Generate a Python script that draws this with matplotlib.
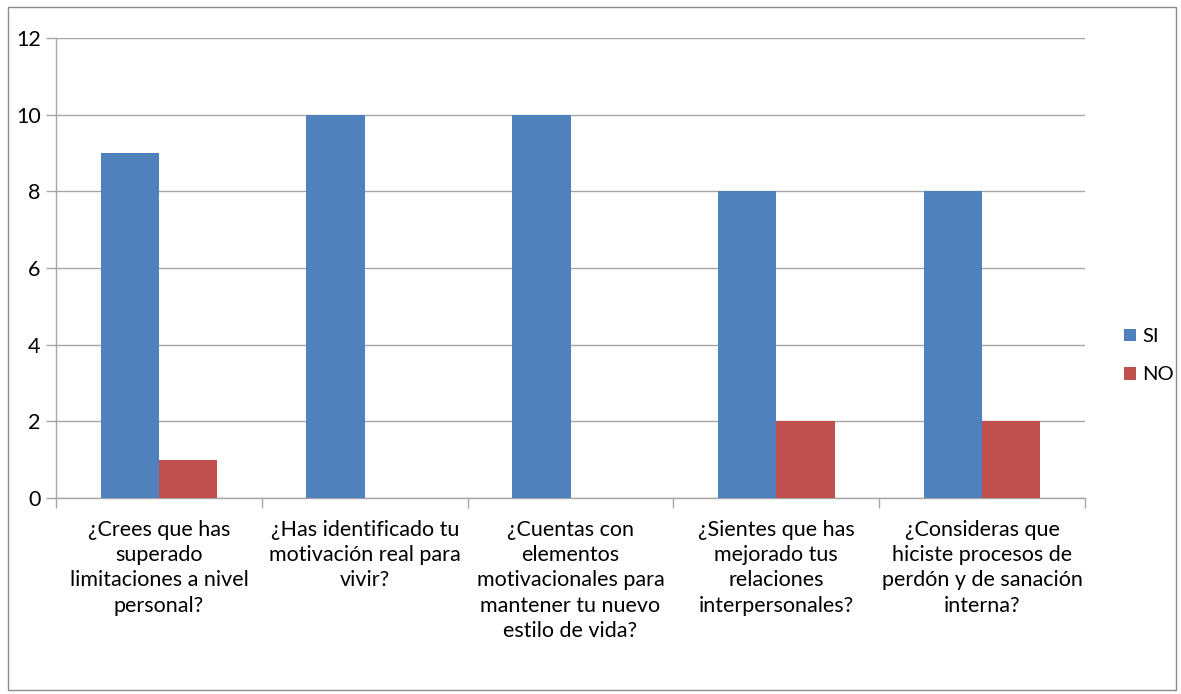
import matplotlib
matplotlib.use('agg')
import numpy as np
import matplotlib.pyplot as plt
from matplotlib.patches import Rectangle

categories = ['¿Crees que has\nsuperado\nlimitaciones a nivel\npersonal?',
              '¿Has identificado tu\nmotivación real para\nvivir?',
              '¿Cuentas con\nelementos\nmotivacionales para\nmantener tu nuevo\nestilo de vida?',
              '¿Sientes que has\nmejorado tus\nrelaciones\ninterpersonales?',
              '¿Consideras que\nhiciste procesos de\nperdón y de sanación\ninterna?']
si = [9, 10, 10, 8, 8]
no = [1, 0, 0, 2, 2]

plt.rcParams['font.family'] = ['Lato', 'DejaVu Sans']
gray = '#A6A6A6'
fs = 15.5

fig = plt.figure(figsize=(11.81, 6.94), dpi=100)
W, H = 1181, 694
ax = fig.add_axes([56/W, 1-498/H, (1085-56)/W, (498-38)/H])

x = np.arange(len(categories))
w = 0.283
ax.bar(x - w/2, si, w, color='#4F81BD', label='SI', zorder=3)
ax.bar(x + w/2, no, w, color='#C0504D', label='NO', zorder=3)

ax.set_xlim(-0.5, len(categories) - 0.5)
ax.set_ylim(0, 12)
ax.set_yticks(range(0, 13, 2))
ax.tick_params(axis='y', labelsize=fs, length=7, color=gray, width=1, pad=4)
ax.yaxis.grid(True, color=gray, linewidth=1, zorder=0)

ax.set_xticks(x)
ax.set_xticklabels(categories, fontsize=fs, linespacing=1.32)
ax.tick_params(axis='x', length=0, pad=16)
ax.set_xticks(np.arange(-0.5, len(categories)), minor=True)
ax.tick_params(axis='x', which='minor', length=7, color=gray, width=1)

for s in ['top', 'right']:
    ax.spines[s].set_visible(False)
for s in ['left', 'bottom']:
    ax.spines[s].set_color(gray)
    ax.spines[s].set_linewidth(1)

leg = fig.legend(loc='upper left', bbox_to_anchor=(1110/W, 1-314/H), frameon=False,
                 fontsize=fs - 1, handlelength=0.6, handleheight=0.6,
                 handletextpad=0.3, labelspacing=1.05, borderpad=0.2)

fig.patches.append(Rectangle((8/W, 4/H), 1168/W, 683/H, transform=fig.transFigure,
                             fill=False, edgecolor='#8C8C8C', linewidth=1))

fig.savefig('out.png', dpi=100)
